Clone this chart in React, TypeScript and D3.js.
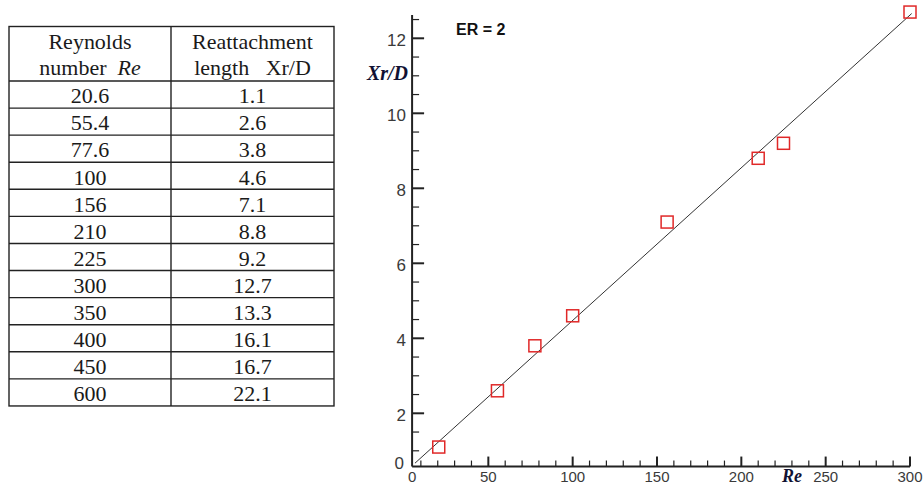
import React from "react";
import * as d3 from "d3";

// Measured reattachment lengths for ER = 2
const reynolds = [20.6, 55.4, 77.6, 100, 156, 210, 225, 300, 350, 400, 450, 600];
const reattach = [1.1, 2.6, 3.8, 4.6, 7.1, 8.8, 9.2, 12.7, 13.3, 16.1, 16.7, 22.1];
const reynoldsLabels = ["20.6", "55.4", "77.6", "100", "156", "210", "225", "300", "350", "400", "450", "600"];
const reattachLabels = ["1.1", "2.6", "3.8", "4.6", "7.1", "8.8", "9.2", "12.7", "13.3", "16.1", "16.7", "22.1"];

// Linear fit drawn through the data (end points)
const fitRe = [6.5, 301];
const fitXr = [0.67, 12.66];

// Axis ticks
const xMajor = [50, 100, 150, 200, 250, 300];
const xMajorLabels = ["50", "100", "150", "200", "250", "300"];
const xMinor = [10, 20, 30, 40, 60, 70, 80, 90, 110, 120, 130, 140, 160, 170, 180, 190, 210, 220, 230, 240, 260, 270, 280, 290];
const yMajor = [2, 4, 6, 8, 10, 12];
const yMajorLabels = ["2", "4", "6", "8", "10", "12"];
const yMinor = [1, 1.5, 2.5, 3, 3.5, 4.5, 5, 5.5, 6.5, 7, 7.5, 8.5, 9, 9.5, 10.5, 11, 11.5, 12.5];

const W = 924;
const H = 486;

export default function App() {
  const x = d3.scaleLinear().domain([0, 300]).range([404, 910]);
  const y = d3.scaleLinear().domain([0, 12]).range([488.3, 38.3]);
  const xStart = 4.8;
  const yStart = 0.58;
  const yEnd = 12.62;

  const fitLine = d3
    .line<number>()
    .x((_, i) => x(fitRe[i]))
    .y((_, i) => y(fitXr[i]))(fitRe);

  const points = reynolds
    .map((re, i) => ({ re, xr: reattach[i] }))
    .filter((p) => p.re <= 300);

  // Table geometry
  const tL = 9;
  const tM = 171;
  const tR = 334;
  const tTop = 26.5;
  const headH = 54.5;
  const rowH = 27.08;
  const c1 = (tL + tM) / 2;
  const c2 = (tM + tR) / 2;
  const serif = "'Liberation Serif', 'Times New Roman', serif";
  const sans = "'Liberation Sans', Arial, Helvetica, sans-serif";
  const tableBottom = tTop + headH + rowH * reynolds.length;

  const cellText = (cx: number, by: number, content: React.ReactNode, key?: string) => (
    <g key={key} transform={`translate(${cx},${by}) scale(1.1,1)`}>
      <text x={0} y={0} textAnchor="middle" fontFamily={serif} fontSize={20} fill="#1a1a1a">
        {content}
      </text>
    </g>
  );

  return (
    <svg
      width={W}
      height={H}
      viewBox={`0 0 ${W} ${H}`}
      style={{ position: "absolute", left: 0, top: 0, background: "#fff" }}
    >
      <rect x={0} y={0} width={W} height={H} fill="#fff" />

      {/* Data table */}
      <g stroke="#222" strokeWidth={1.4} fill="none">
        <rect x={tL} y={tTop} width={tR - tL} height={tableBottom - tTop} />
        <line x1={tM} x2={tM} y1={tTop} y2={tableBottom} />
        {reynolds.map((_, i) => (
          <line key={i} x1={tL} x2={tR} y1={tTop + headH + rowH * i} y2={tTop + headH + rowH * i} />
        ))}
      </g>
      {cellText(c1, 48.5, "Reynolds")}
      {cellText(
        c1,
        75,
        <>
          number{"\u00a0\u00a0"}
          <tspan fontStyle="italic">Re</tspan>
        </>
      )}
      {cellText(c2, 48.5, "Reattachment")}
      {cellText(c2, 75, <>length{"\u00a0\u00a0\u00a0"}Xr/D</>)}
      {reynoldsLabels.map((lab, i) => cellText(c1, tTop + headH + rowH * i + 22.3, lab, "a" + i))}
      {reattachLabels.map((lab, i) => cellText(c2, tTop + headH + rowH * i + 22.3, lab, "b" + i))}

      {/* Plot */}
      <path d={fitLine ?? ""} stroke="#333" strokeWidth={1} fill="none" />
      {points.map((p, i) => (
        <rect
          key={i}
          x={x(p.re) - 6}
          y={y(p.xr) - 6}
          width={12}
          height={12}
          fill="none"
          stroke="#e02828"
          strokeWidth={1.5}
        />
      ))}

      {/* Axes */}
      <g stroke="#222">
        <line x1={x(xStart)} x2={x(300)} y1={y(yStart)} y2={y(yStart)} strokeWidth={2} />
        <line x1={x(xStart)} x2={x(xStart)} y1={y(yStart)} y2={y(yEnd)} strokeWidth={2} />
        {xMajor.map((v) => (
          <line key={v} x1={x(v)} x2={x(v)} y1={y(yStart)} y2={y(yStart) - 10} strokeWidth={2} />
        ))}
        {xMinor.map((v) => (
          <line key={v} x1={x(v)} x2={x(v)} y1={y(yStart)} y2={y(yStart) - 6} strokeWidth={1.2} />
        ))}
        {yMajor.map((v) => (
          <line key={v} x1={x(xStart)} x2={x(xStart) + 12} y1={y(v)} y2={y(v)} strokeWidth={2} />
        ))}
        {yMinor.map((v) => (
          <line key={v} x1={x(xStart)} x2={x(xStart) + 7} y1={y(v)} y2={y(v)} strokeWidth={1.2} />
        ))}
      </g>

      <g fontFamily={sans} fontSize={15} fill="#3a3a3a">
        {xMajor.map((v, i) => (
          <text key={v} x={x(v)} y={481.5} textAnchor="middle">
            {xMajorLabels[i]}
          </text>
        ))}
        <text x={x(xStart)} y={481.5} textAnchor="middle">0</text>
      </g>
      <g fontFamily={sans} fontSize={17} fill="#3a3a3a">
        {yMajor.map((v, i) => (
          <text key={v} x={406} y={y(v) + 7.5} textAnchor="end">
            {yMajorLabels[i]}
          </text>
        ))}
        <text x={404} y={y(yStart) + 2.5} textAnchor="end">0</text>
      </g>

      <text x={792} y={481.5} textAnchor="middle" fontFamily={serif} fontSize={18} fontWeight="bold" fontStyle="italic" fill="#111133">
        Re
      </text>
      <text x={408} y={80} textAnchor="end" fontFamily={serif} fontSize={20} fontWeight="bold" fontStyle="italic" fill="#111133">
        Xr/D
      </text>
      <text x={456} y={35} fontFamily={sans} fontSize={16} fontWeight="bold" fill="#111">
        ER = 2
      </text>
    </svg>
  );
}
